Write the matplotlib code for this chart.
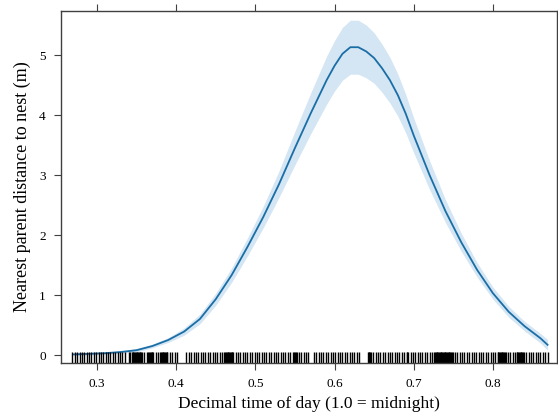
import numpy as np
import matplotlib
matplotlib.use("Agg")
import matplotlib.pyplot as plt

plt.rcParams['font.family'] = ['Liberation Serif', 'DejaVu Serif']

# fitted effect of time of day on nearest parent distance
time_x = [0.27, 0.29, 0.31, 0.33, 0.35, 0.37, 0.39, 0.41, 0.43, 0.45, 0.47,
          0.49, 0.51, 0.53, 0.55, 0.57, 0.59, 0.60, 0.61, 0.62, 0.63, 0.64,
          0.65, 0.66, 0.67, 0.68, 0.69, 0.70, 0.72, 0.74, 0.76, 0.78, 0.80,
          0.82, 0.84, 0.86, 0.869]
fit = [0.01, 0.02, 0.03, 0.05, 0.08, 0.15, 0.25, 0.39, 0.60, 0.93, 1.33,
       1.80, 2.30, 2.85, 3.45, 4.03, 4.58, 4.82, 5.02, 5.13, 5.13, 5.06,
       4.95, 4.78, 4.58, 4.33, 4.02, 3.66, 3.00, 2.40, 1.88, 1.42, 1.03,
       0.72, 0.48, 0.28, 0.17]
half_ci = [0.02, 0.02, 0.02, 0.02, 0.03, 0.03, 0.04, 0.06, 0.08, 0.10, 0.12,
           0.15, 0.18, 0.22, 0.28, 0.34, 0.40, 0.42, 0.44, 0.45, 0.45, 0.44,
           0.42, 0.40, 0.38, 0.35, 0.32, 0.29, 0.24, 0.19, 0.15, 0.12, 0.10,
           0.09, 0.08, 0.08, 0.09]

# observed times (thousandths of a day) for the rug
rug_ms = [269, 272, 275, 278, 281, 284, 287, 290, 293, 296, 299, 302, 305, 308,
          311, 314, 317, 320, 323, 326, 329, 332, 335, 340, 342,
          344, 345, 346, 347, 348, 349, 350, 351, 352, 353, 354, 355, 356, 357,
          360, 363, 365, 366, 367, 368, 369, 370, 371, 374, 377,
          380, 381, 382, 383, 384, 385, 386, 387, 388, 389, 392, 395, 398, 401,
          413, 416, 419, 422, 425, 428, 431, 434, 437, 440, 443, 446, 449, 452,
          455, 458, 461, 462, 463, 464, 465, 466, 467, 468, 469, 470, 471, 472,
          475, 478, 481, 484, 487, 490, 493, 496, 499, 502, 505, 508, 511, 514,
          517, 520, 523, 526, 529, 532, 535, 538, 541, 544, 547,
          549, 550, 551, 552, 555, 558, 561, 564, 567, 574, 577, 580, 583, 586,
          589, 592, 595, 598, 601, 604, 607, 610, 613, 616, 619, 622, 625, 628,
          631, 642, 643, 644, 645, 646, 649, 652, 655, 658, 661, 664, 667, 670,
          673, 676, 679, 682, 685, 688, 691, 692, 693, 696, 699, 702, 705, 708,
          711, 714, 717, 720, 723, 726, 727, 728, 729, 730, 731, 732, 733, 734,
          735, 736, 737, 738, 739, 740, 741, 742, 743, 744, 745, 746, 747, 748,
          749, 752, 755, 758, 761, 764, 767, 770, 773, 776, 779, 782, 785, 788,
          791, 794, 797, 800, 803, 806, 807, 808, 809, 810, 811, 812, 813, 814,
          815, 816, 819, 822, 825, 828, 830, 831, 832, 833, 834, 835, 836, 837,
          838, 839, 842, 845, 848, 851, 854, 857, 860, 863, 866, 869]

x_ticks = [0.3, 0.4, 0.5, 0.6, 0.7, 0.8]
y_ticks = [0, 1, 2, 3, 4, 5]

t = np.array(time_x)
f = np.array(fit)
h = np.array(half_ci)
rug = np.array(rug_ms) / 1000

fig = plt.figure(figsize=(5.58, 4.18), dpi=100)
ax = fig.add_axes([0.1093, 0.1316, 0.889, 0.842])

ax.fill_between(t, f - h, f + h, color='#d4e5f3', lw=0)
ax.plot(t, f, color='#1a6ea6', lw=1.3)

ax.set_xlim(0.2546, 0.881)
ax.set_ylim(-0.133, 5.733)

# rug along the bottom edge
ax.vlines(rug, 0, 0.03, transform=ax.get_xaxis_transform(),
          color='black', lw=1.0)

ax.set_xticks(x_ticks)
ax.set_yticks(y_ticks)
ax.tick_params(axis='both', direction='out', length=5, width=0.8,
               color='#404040', labelsize=9.5, pad=6)
ax.tick_params(axis='x', top=True)
for sp in ax.spines.values():
    sp.set_color('#404040')
    sp.set_linewidth(1.0)

ax.set_xlabel('Decimal time of day (1.0 = midnight)', fontsize=12.5, labelpad=4)
ax.set_ylabel('Nearest parent distance to nest (m)', fontsize=13, labelpad=6)

fig.savefig('out.png', dpi=100)
